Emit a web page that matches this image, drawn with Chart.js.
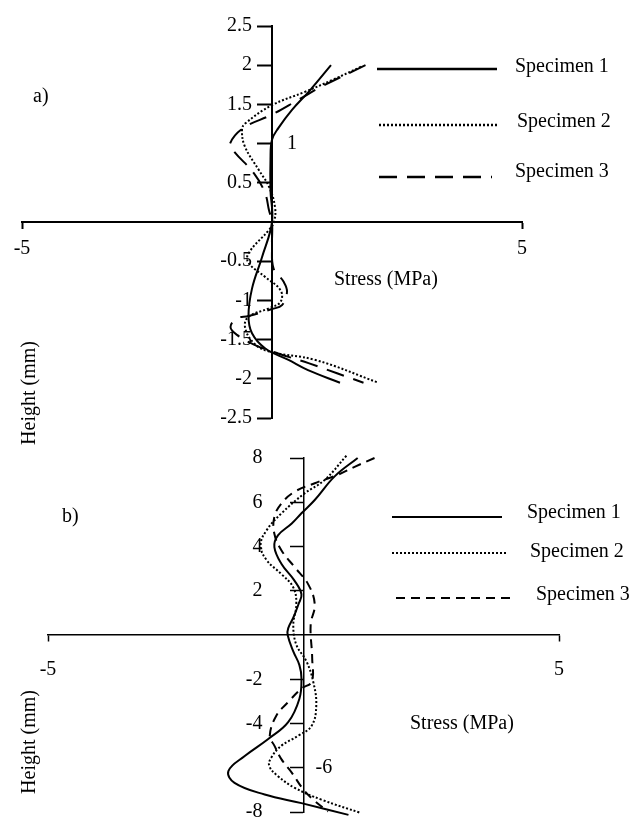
<!DOCTYPE html>
<html>
<head>
<meta charset="utf-8">
<script src="https://cdn.jsdelivr.net/npm/chart.js@4.4.0/dist/chart.umd.min.js"></script>
<style>
  html, body { margin: 0; padding: 0; background: #fff; }
  #wrap { position: relative; width: 633px; height: 817px; overflow: hidden; }
  canvas { position: absolute; left: 0; }
  #chartA { top: 0; }
  #chartB { top: 430px; }
</style>
</head>
<body>
<div id="wrap">
  <canvas id="chartA" width="633" height="455"></canvas>
  <canvas id="chartB" width="633" height="387"></canvas>
</div>
<script>
// --- Data ---
const seriesNames = ['Specimen 1', 'Specimen 2', 'Specimen 3'];

// panel a) stress (MPa) vs height (mm), read from top to bottom
const a1Stress = [1.18, 0.76, 0.40, 0.13, 0.00, -0.03, -0.03, 0.00, -0.20, -0.40, -0.47, -0.40, -0.14, 0.33, 0.72, 1.36];
const a1Height = [2.00, 1.68, 1.43, 1.20, 1.05, 0.80, 0.40, 0.00, -0.45, -0.85, -1.20, -1.42, -1.61, -1.76, -1.89, -2.05];

const a2Stress = [1.78, 1.20, 0.66, 0.00, -0.53, -0.60, -0.54, -0.26, -0.06, 0.06, 0.04, -0.06, -0.47, -0.47, -0.14, 0.17, 0.17, -0.06, -0.47, -0.54, -0.37, -0.07, 0.87, 2.13];
const a2Height = [1.98, 1.81, 1.66, 1.49, 1.26, 1.18, 0.96, 0.66, 0.45, 0.19, 0.00, -0.10, -0.40, -0.52, -0.70, -0.87, -1.02, -1.10, -1.21, -1.34, -1.54, -1.65, -1.76, -2.05];

const a3Stress = [1.87, 1.00, 0.53, 0.00, -0.57, -0.84, -0.76, -0.36, -0.14, -0.06, 0.00, 0.00, 0.03, 0.23, 0.30, 0.20, 0.00, -0.47, -0.70, -0.83, -0.70, -0.34, 0.33, 0.73, 1.30, 1.83];
const a3Height = [2.00, 1.73, 1.56, 1.37, 1.20, 1.00, 0.90, 0.62, 0.37, 0.15, 0.00, -0.30, -0.59, -0.76, -0.89, -1.06, -1.11, -1.20, -1.23, -1.34, -1.44, -1.57, -1.72, -1.80, -1.93, -2.05];

// panel b)
const b1Stress = [1.06, 0.61, 0.22, -0.04, -0.23, -0.50, -0.57, -0.43, -0.18, -0.04, -0.10, -0.20, -0.30, -0.31, -0.20, -0.08, -0.04, -0.08, -0.30, -0.69, -1.15, -1.47, -1.35, -0.76, -0.04, 0.88];
const b1Height = [8.00, 7.17, 6.10, 5.50, 5.04, 4.50, 3.97, 3.21, 2.47, 1.84, 1.38, 0.78, 0.30, 0.00, -0.74, -1.36, -1.96, -2.88, -3.94, -4.70, -5.47, -6.15, -6.68, -7.21, -7.60, -8.13];

const b2Stress = [0.84, 0.41, 0.02, -0.43, -0.72, -0.84, -0.72, -0.43, -0.20, -0.14, -0.20, -0.14, 0.06, 0.19, 0.25, 0.16, -0.10, -0.43, -0.63, -0.67, -0.50, -0.17, 0.35, 1.13];
const b2Height = [8.10, 7.00, 6.40, 5.50, 4.74, 4.06, 3.38, 2.75, 2.15, 1.38, 0.47, -0.44, -1.20, -2.11, -3.18, -4.10, -4.55, -5.00, -5.54, -5.92, -6.38, -6.91, -7.44, -8.05];

const b3Stress = [1.39, 1.00, 0.68, 0.22, -0.17, -0.43, -0.57, -0.57, -0.43, -0.17, 0.09, 0.22, 0.14, 0.17, 0.16, -0.04, -0.30, -0.53, -0.66, -0.57, -0.43, -0.23, 0.00, 0.19, 0.48];
const b3Height = [8.00, 7.60, 7.25, 6.86, 6.48, 5.95, 5.34, 4.58, 3.82, 3.06, 2.30, 1.38, 0.47, -1.05, -2.11, -2.42, -3.03, -3.64, -4.55, -5.00, -5.62, -6.22, -6.99, -7.44, -7.98];

// axis ranges and ticks
const stressTicks = [-5, 5];
const heightRangeA = [-2.5, 2.5];
const heightRangeB = [-8, 8];
const heightStepA = 0.5;
const heightStepB = 2;
const movedTickA = [1];   // tick label printed right of the axis
const movedTickB = [-6];

// --- Helpers ---
const FONT = "20px 'Liberation Serif', 'Times New Roman', serif";
Chart.defaults.font.family = "'Liberation Serif', 'Times New Roman', serif";
Chart.defaults.font.size = 20;
Chart.defaults.color = '#000';

const toPoints = (xs, ys) => xs.map((x, i) => ({ x: x, y: ys[i] }));
const fmt = v => String(Math.round(v * 10) / 10);

function makeDatasets(pairs, dashes, width) {
    return pairs.map((p, i) => ({
        label: seriesNames[i],
        data: toPoints(p[0], p[1]),
        showLine: true,
        borderColor: '#000',
        borderWidth: width,
        borderDash: dashes[i],
        borderCapStyle: 'butt',
        tension: 0.4,
        pointRadius: 0,
        clip: false
    }));
}

// y tick labels, legend, axis titles, panel letters
const extraText = {
    id: 'extraText',
    afterDraw(chart, args, opts) {
        const ctx = chart.ctx;
        const xs = chart.scales.x, ys = chart.scales.y;
        const x0 = xs.getPixelForValue(0);
        ctx.save();
        ctx.fillStyle = '#000';
        ctx.strokeStyle = '#000';
        ctx.font = FONT;
        ctx.textBaseline = 'middle';

        // height tick labels, left of the axis (or right for the moved ones)
        ys.ticks.forEach(t => {
            const v = t.value;
            if (Math.abs(v) < 1e-9) return;
            const py = ys.getPixelForValue(v);
            if (opts.moved.includes(v)) {
                ctx.textAlign = 'left';
                ctx.fillText(fmt(v), x0 + opts.movedGap, py);
            } else {
                ctx.textAlign = 'right';
                ctx.fillText(fmt(v), x0 - opts.labelGap, py);
            }
        });

        ctx.textAlign = 'left';
        opts.texts.forEach(t => {
            ctx.save();
            ctx.translate(t.x, t.y);
            if (t.rot) { ctx.rotate(t.rot); ctx.textAlign = 'center'; }
            ctx.fillText(t.text, 0, 0);
            ctx.restore();
        });

        chart.data.datasets.forEach((ds, i) => {
            const it = opts.legend[i];
            ctx.beginPath();
            ctx.lineWidth = opts.legendWidth;
            ctx.setLineDash(ds.borderDash || []);
            ctx.moveTo(it.x1, it.y);
            ctx.lineTo(it.x2, it.y);
            ctx.stroke();
            ctx.setLineDash([]);
            ctx.fillText(ds.label, it.tx, it.ty);
        });
        ctx.restore();
    }
};

function axisOptions(range, step, tickLen, lineW, xPad) {
    const hideTick = c => (c.tick && c.tick.value === 0) ? 'rgba(0,0,0,0)' : '#000';
    return {
        x: {
            type: 'linear',
            position: { y: 0 },
            min: stressTicks[0], max: stressTicks[1],
            afterBuildTicks: s => { s.ticks = [stressTicks[0], 0, stressTicks[1]].map(v => ({ value: v })); },
            ticks: { callback: v => v === 0 ? '' : fmt(v), padding: xPad, maxRotation: 0, autoSkip: false },
            grid: { drawOnChartArea: false, tickLength: 6, color: '#000', tickColor: hideTick, tickWidth: lineW },
            border: { color: '#000', width: lineW },
            afterFit: s => { s.height = 0; s.paddingLeft = 0; s.paddingRight = 0; }
        },
        y: {
            type: 'linear',
            position: { x: 0 },
            min: range[0], max: range[1],
            ticks: { stepSize: step, autoSkip: false, display: false },
            grid: { drawOnChartArea: false, tickLength: tickLen, color: '#000', tickColor: hideTick, tickWidth: lineW },
            border: { color: '#000', width: lineW },
            afterFit: s => { s.width = 0; s.paddingTop = 0; s.paddingBottom = 0; }
        }
    };
}

// --- Panel a) ---
new Chart(document.getElementById('chartA'), {
    type: 'scatter',
    data: {
        datasets: makeDatasets(
            [[a1Stress, a1Height], [a2Stress, a2Height], [a3Stress, a3Height]],
            [[], [2, 2], [18, 10]], 2)
    },
    options: {
        responsive: false,
        animation: false,
        devicePixelRatio: 1,
        layout: { padding: { left: 22, right: 111, top: 26, bottom: 37 } },
        scales: axisOptions(heightRangeA, heightStepA, 14, 2, 9),
        plugins: {
            legend: { display: false },
            tooltip: { enabled: false },
            extraText: {
                moved: movedTickA,
                movedGap: 15,
                labelGap: 20,
                texts: [
                    { text: 'a)', x: 33, y: 97 },
                    { text: 'Stress (MPa)', x: 334, y: 280 },
                    { text: 'Height (mm)', x: 30, y: 393, rot: -Math.PI / 2 }
                ],
                legendWidth: 2.5,
                legend: [
                    { x1: 377, x2: 497, y: 69, tx: 515, ty: 67 },
                    { x1: 379, x2: 497, y: 125, tx: 517, ty: 122 },
                    { x1: 379, x2: 492, y: 177, tx: 515, ty: 172 }
                ]
            }
        }
    },
    plugins: [extraText]
});

// --- Panel b) ---
new Chart(document.getElementById('chartB'), {
    type: 'scatter',
    data: {
        datasets: makeDatasets(
            [[b1Stress, b1Height], [b2Stress, b2Height], [b3Stress, b3Height]],
            [[], [2, 2], [9, 6]], 2)
    },
    options: {
        responsive: false,
        animation: false,
        devicePixelRatio: 1,
        layout: { padding: { left: 48, right: 74, top: 28, bottom: 5 } },
        scales: axisOptions(heightRangeB, heightStepB, 13, 1.5, 17),
        plugins: {
            legend: { display: false },
            tooltip: { enabled: false },
            extraText: {
                moved: movedTickB,
                movedGap: 12,
                labelGap: 41,
                texts: [
                    { text: 'b)', x: 62, y: 87 },
                    { text: 'Stress (MPa)', x: 410, y: 294 },
                    { text: 'Height (mm)', x: 30, y: 312, rot: -Math.PI / 2 }
                ],
                legendWidth: 2,
                legend: [
                    { x1: 392, x2: 502, y: 87, tx: 527, ty: 83 },
                    { x1: 392, x2: 508, y: 123, tx: 530, ty: 122 },
                    { x1: 396, x2: 512, y: 168, tx: 536, ty: 165 }
                ]
            }
        }
    },
    plugins: [extraText]
});
</script>
</body>
</html>
